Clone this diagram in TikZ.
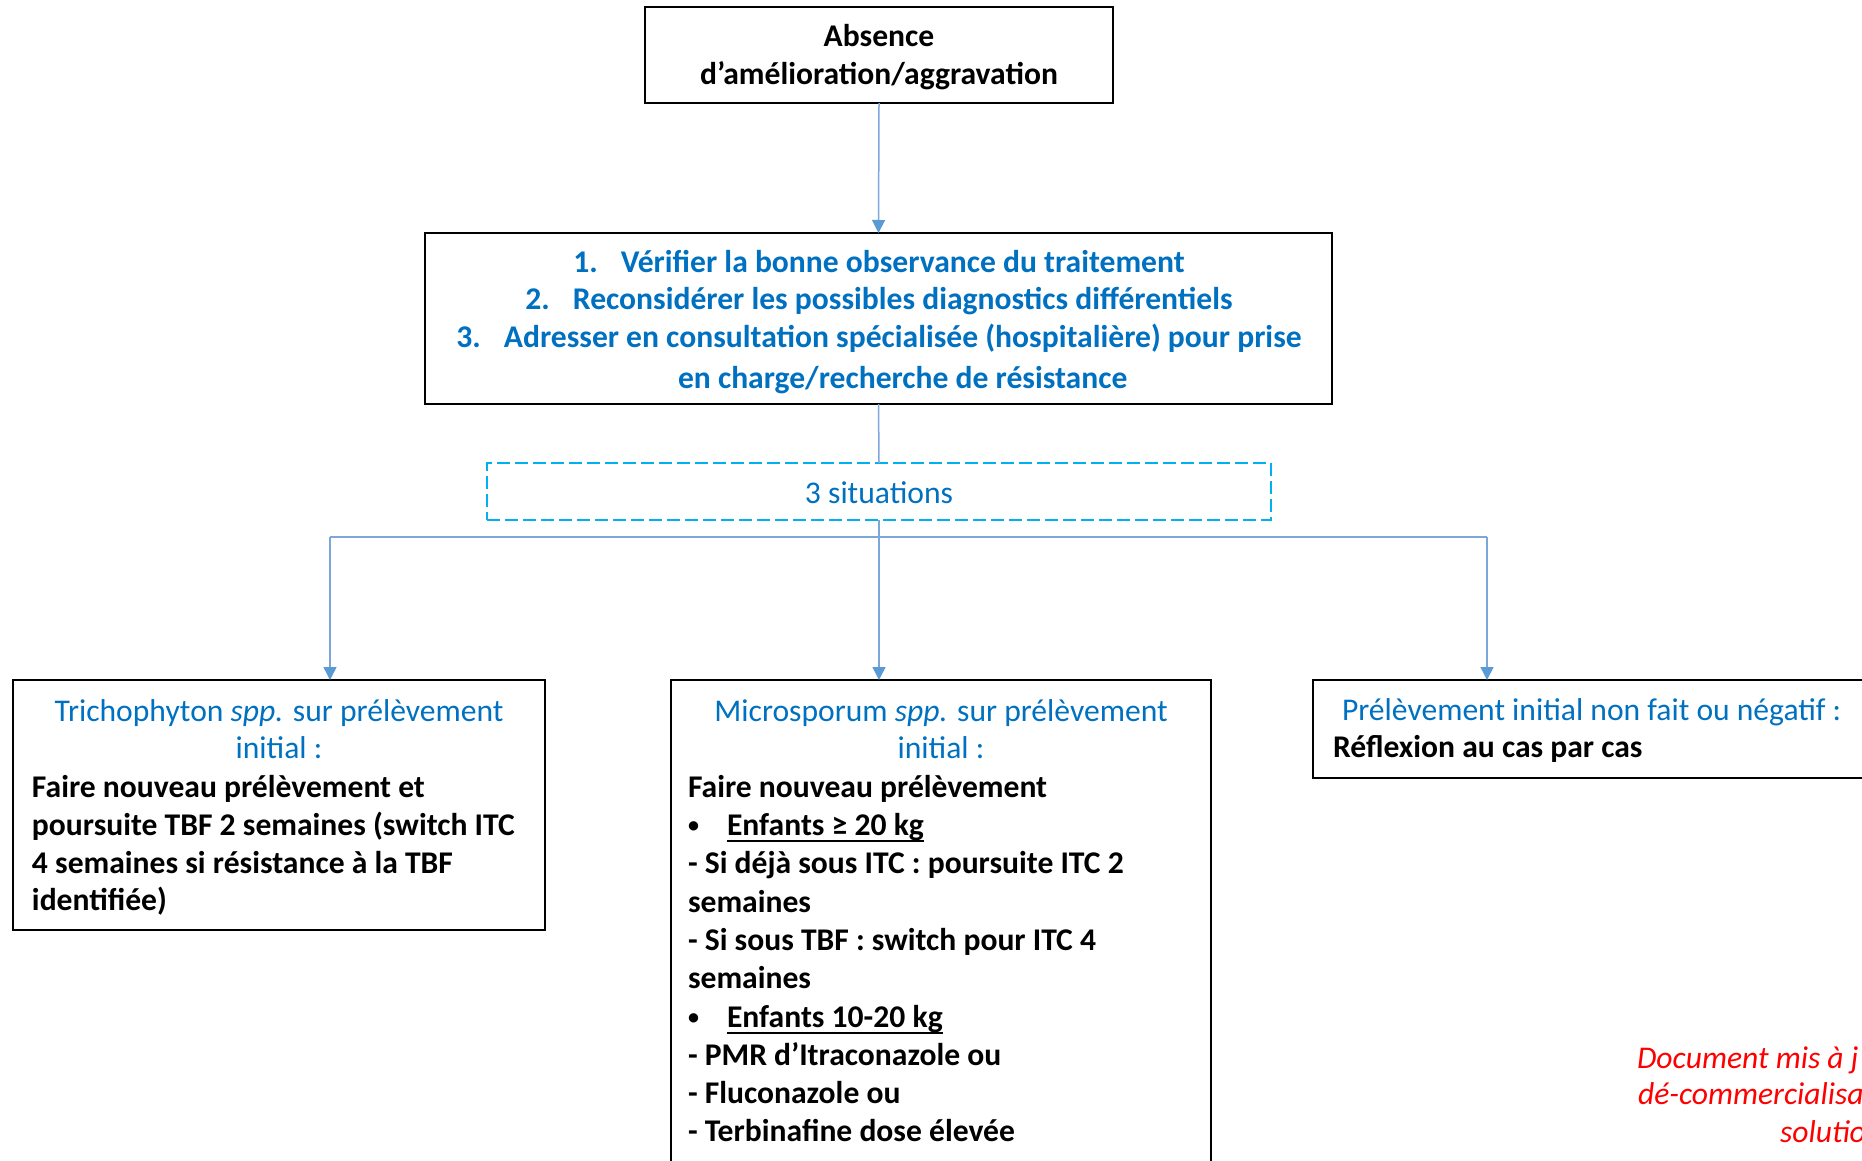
\documentclass[tikz,border=0pt]{standalone}
\usepackage{fontspec}
\setmainfont{Carlito}
\usetikzlibrary{arrows.meta}
\definecolor{txtblue}{RGB}{0,112,192}
\definecolor{linkblue}{RGB}{125,166,218}
\definecolor{tipblue}{RGB}{91,155,213}
\definecolor{dashcyan}{RGB}{0,176,240}
\definecolor{notered}{RGB}{255,0,0}
\newcommand{\fsz}{\fontsize{15.8}{19.1}\selectfont}
\newcommand{\myul}[1]{\setbox0\hbox{#1}\rlap{\rule[-3.5pt]{\wd0}{0.9pt}}\box0}
\newcommand{\mybul}{\makebox[19.5pt][l]{\raisebox{1.3pt}{\fontsize{11}{11}\selectfont •}}}
\begin{document}
\begin{tikzpicture}[x=0.5pt,y=-0.5pt,
  box/.style={draw=black, line width=1.25pt, inner sep=0pt, outer sep=0pt},
  dbox/.style={draw=dashcyan, line width=1.2pt, dash pattern=on 6.3pt off 2.7pt, inner sep=0pt, outer sep=0pt},
  conn/.style={draw=linkblue, line width=0.75pt},
  arr/.style={-{Triangle[width=6.5pt,length=6.5pt,color=tipblue]}},
  ctxt/.style={inner sep=0pt, outer sep=0pt, anchor=base, font=\fsz},
  ltxt/.style={inner sep=0pt, outer sep=0pt, anchor=base west, font=\fsz},
  bk/.style={text=black, font=\fsz\bfseries},
  bl/.style={text=txtblue},
  blb/.style={text=txtblue, font=\fsz\bfseries},
  rd/.style={text=notered, font=\fsz\itshape}
]
\useasboundingbox (0,0) rectangle (1862,1161);
\clip (0,0) rectangle (1862,1161);

% boxes
\node[box, minimum width=234pt, minimum height=48pt] (top) at (879,55) {};
\node[box, minimum width=453.5pt, minimum height=85.5pt] (check) at (878.5,318.5) {};
\node[dbox, minimum width=392pt, minimum height=28.5pt] (sit) at (879,491.5) {};
\node[box, minimum width=266pt, minimum height=125pt] (tricho) at (279,805) {};
\node[box, minimum width=270pt, minimum height=260pt] (micro) at (941,940) {};
\node[box, minimum width=293.5pt, minimum height=49pt] (prelev) at (1606.5,729) {};

% top box text
\node[ctxt, bk] (t1) at (879,47) {Absence};
\node[ctxt, bk] (t2) at (879,85) {d’amélioration/aggravation};

% second box text
\node[ctxt, blb] (c1) at (879,272) {\makebox[23.75pt][l]{1.}Vérifier la bonne observance du traitement};
\node[ctxt, blb] (c2) at (879,309) {\makebox[23.75pt][l]{2.}Reconsidérer les possibles diagnostics différentiels};
\node[ctxt, blb] (c3) at (879,347) {\makebox[23.75pt][l]{3.}Adresser en consultation spécialisée (hospitalière) pour prise};
\node[ctxt, blb] (c4) at (879,388) {\hspace*{23.75pt}en charge/recherche de résistance};

% situations
\node[ctxt, bl] (s1) at (879,503) {3 situations};

% left box
\node[ctxt, bl] (tr1) at (279,721) {Trichophyton \textit{spp.} sur prélèvement};
\node[ctxt, bl] (tr2) at (279,758) {initial :};
\node[ltxt, bk] (tr3) at (32,797) {Faire nouveau prélèvement et};
\node[ltxt, bk] (tr4) at (32,835) {poursuite TBF 2 semaines (switch ITC};
\node[ltxt, bk] (tr5) at (32,873) {4 semaines si résistance à la TBF};
\node[ltxt, bk] (tr6) at (32,910) {identifiée)};

% middle box
\node[ctxt, bl] (mi1) at (941,721) {Microsporum \textit{spp.} sur prélèvement};
\node[ctxt, bl] (mi2) at (941,758) {initial :};
\node[ltxt, bk] (mi3) at (688,797) {Faire nouveau prélèvement};
\node[ltxt, bk] (mi4) at (688,835) {\mybul\myul{Enfants ≥ 20 kg}};
\node[ltxt, bk] (mi5) at (688,873) {- Si déjà sous ITC : poursuite ITC 2};
\node[ltxt, bk] (mi6) at (688,912) {semaines};
\node[ltxt, bk] (mi7) at (688,950) {- Si sous TBF : switch pour ITC 4};
\node[ltxt, bk] (mi8) at (688,988) {semaines};
\node[ltxt, bk] (mi9) at (688,1027) {\mybul\myul{Enfants 10-20 kg}};
\node[ltxt, bk] (mi10) at (688,1065) {- PMR d’Itraconazole ou};
\node[ltxt, bk] (mi11) at (688,1103) {- Fluconazole ou};
\node[ltxt, bk] (mi12) at (688,1141) {- Terbinafine dose élevée};

% right box
\node[ltxt, bl] (pr1) at (1342,720) {Prélèvement initial non fait ou négatif :};
\node[ltxt, bk] (pr2) at (1333,757) {Réflexion au cas par cas};

% red note
\node[ltxt, rd] (n1) at (1637,1068) {Document mis à j};
\node[ltxt, rd] (n2) at (1638,1104) {dé-commercialisa};
\node[ltxt, rd] (n3) at (1780,1142) {solutio};

% connectors
\coordinate (bus) at (879,537);
\coordinate (busL) at (330,537);
\coordinate (busR) at (1487,537);
\draw[conn, arr] (top.south) -- (check.north);
\draw[conn] (check.south) -- (sit.north);
\draw[conn] (sit.south) -- (bus);
\draw[conn] (busL) -- (busR);
\draw[conn, arr] (busL) -- (busL |- tricho.north);
\draw[conn, arr] (bus) -- (bus |- micro.north);
\draw[conn, arr] (busR) -- (busR |- prelev.north);
\end{tikzpicture}
\end{document}
